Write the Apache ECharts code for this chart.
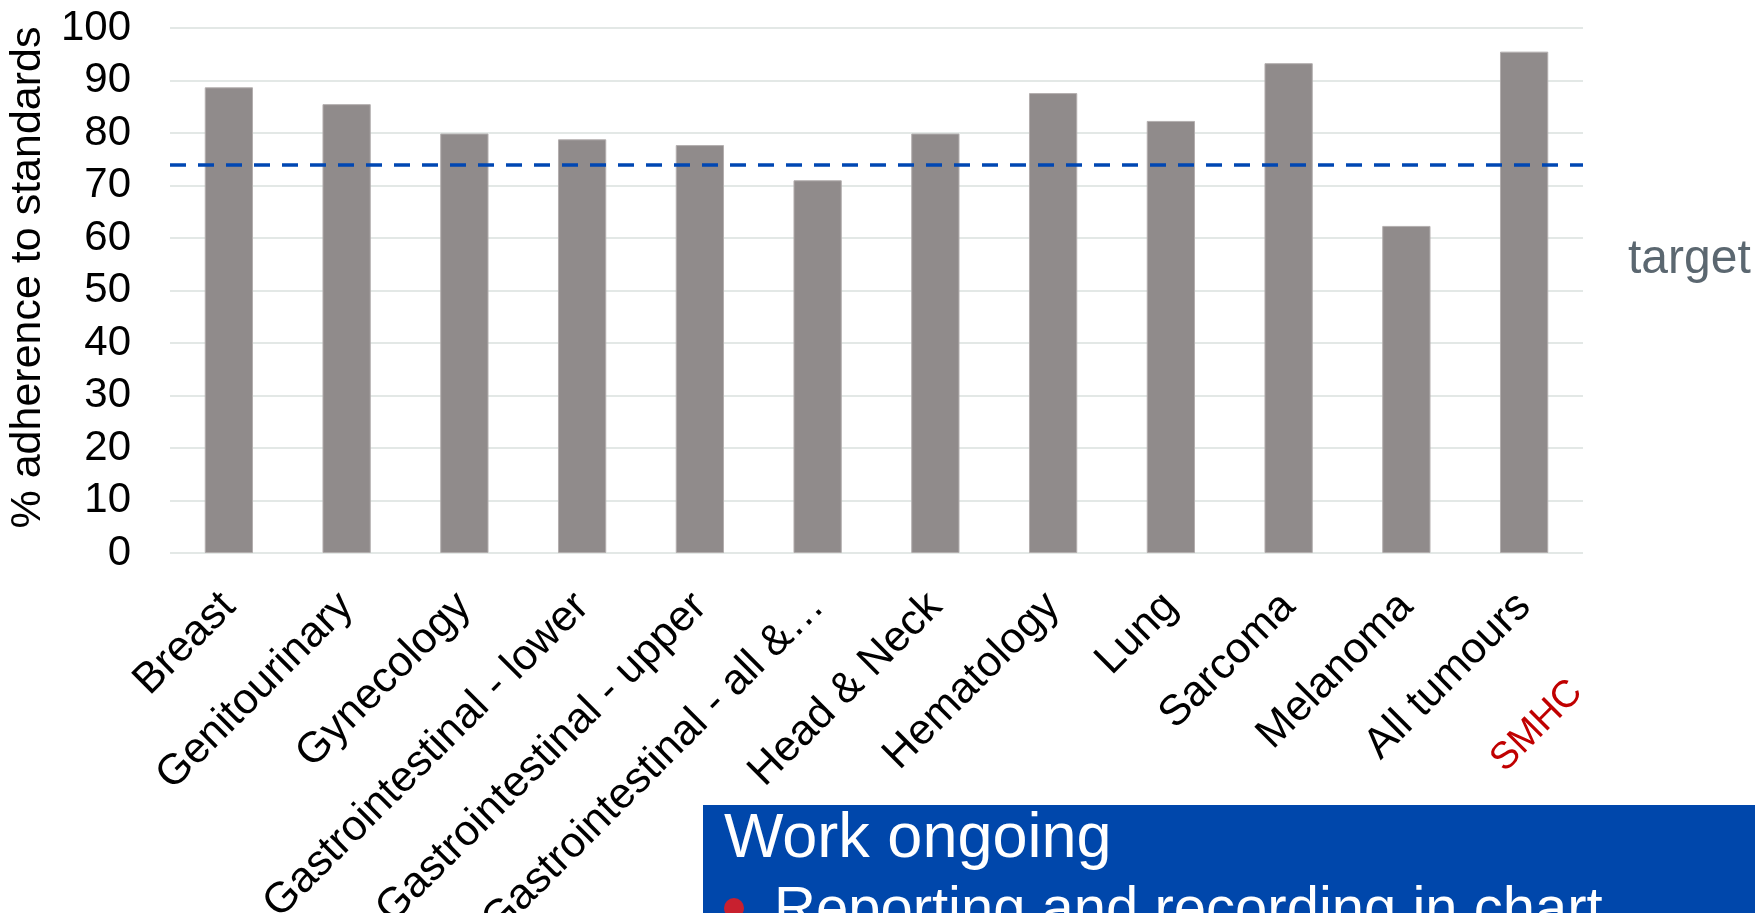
<!DOCTYPE html>
<html><head><meta charset="utf-8">
<script src="https://cdn.jsdelivr.net/npm/echarts@6/dist/echarts.min.js"></script>
<style>html,body{margin:0;padding:0;background:#fff}#c{width:1755px;height:913px}</style>
</head><body><div id="c"></div>
<script>
const categories = ['Breast','Genitourinary','Gynecology','Gastrointestinal - lower','Gastrointestinal - upper','Gastrointestinal - all &…','Head & Neck','Hematology','Lung','Sarcoma','Melanoma','All tumours'];
const adherence = [88.7, 85.5, 79.9, 78.8, 77.7, 71.0, 79.9, 87.6, 82.3, 93.3, 62.3, 95.5];
const targetValue = 74;
const yMin = 0, yMax = 100, yStep = 10;
const yAxisName = '% adherence to standards';
const targetText = 'target';
const siteText = 'SMHC';
const boxTitle = 'Work ongoing';
const boxBullet = 'Reporting and recording in chart';

const FONT = "'Liberation Sans', Arial, sans-serif";
const chart = echarts.init(document.getElementById('c'), null, {renderer: 'canvas'});
chart.setOption({
  animation: false,
  backgroundColor: '#ffffff',
  grid: {left: 170, right: 172, top: 28, bottom: 360, containLabel: false, outerBoundsMode: 'none'},
  xAxis: {
    type: 'category',
    data: categories,
    axisLine: {show: false},
    axisTick: {show: false},
    axisLabel: {
      interval: 0, rotate: 45, margin: 47, hideOverlap: false,
      verticalAlign: 'middle', align: 'right', padding: [29, 0, 0, 0],
      fontSize: 43, color: '#000', fontFamily: FONT
    }
  },
  yAxis: {
    type: 'value', min: yMin, max: yMax, interval: yStep,
    axisLine: {show: false}, axisTick: {show: false},
    axisLabel: {fontSize: 42, color: '#000', fontFamily: FONT, margin: 39},
    splitLine: {lineStyle: {color: '#E3E8E6', width: 2}},
    name: yAxisName, nameLocation: 'middle', nameGap: 101, nameRotate: 90,
    nameTextStyle: {fontSize: 43, color: '#000', fontFamily: FONT, padding: [0, 0, 0, 26]}
  },
  series: [{
    type: 'bar',
    data: adherence,
    barWidth: '41%',
    itemStyle: {color: '#908B8B', borderColor: '#B3AEAE', borderWidth: 1},
    markLine: {
      silent: true, symbol: 'none',
      label: {show: false},
      lineStyle: {color: '#0047B3', width: 3.5, type: [16, 12]},
      data: [{yAxis: targetValue}]
    }
  }],
  graphic: [
    {type: 'text', x: 1628, y: 260, style: {text: targetText, fontSize: 48, fontFamily: FONT, fill: '#5B6770', align: 'left', verticalAlign: 'middle'}},
    {type: 'text', x: 1537, y: 726, rotation: Math.PI / 4, style: {text: siteText, fontSize: 38, fontFamily: FONT, fill: '#C00000', align: 'center', verticalAlign: 'middle'}},
    {type: 'rect', shape: {x: 703, y: 805, width: 1052, height: 108}, style: {fill: '#0047AB'}},
    {type: 'text', x: 724, y: 840, style: {text: boxTitle, fontSize: 63, fontFamily: FONT, fill: '#ffffff', align: 'left', verticalAlign: 'middle'}},
    {type: 'circle', shape: {cx: 734, cy: 908, r: 10}, style: {fill: '#C8202F'}},
    {type: 'text', x: 774, y: 911, style: {text: boxBullet, fontSize: 58, fontFamily: FONT, fill: '#ffffff', align: 'left', verticalAlign: 'middle'}}
  ]
});
</script>
</body></html>
